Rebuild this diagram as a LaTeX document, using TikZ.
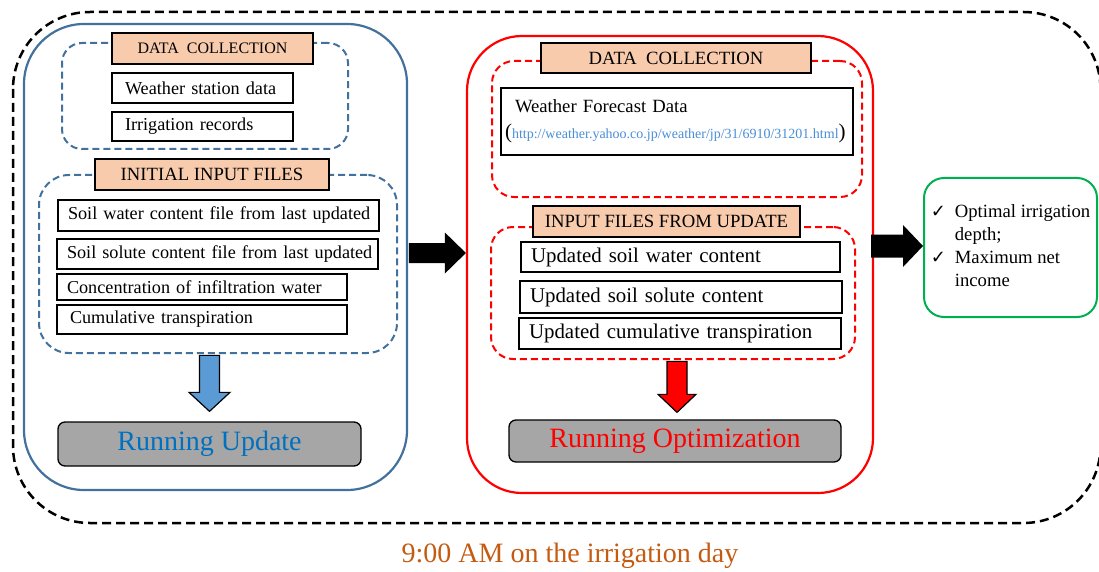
\documentclass[tikz,border=0pt]{standalone}
\usepackage{fontspec}
\setmainfont{Liberation Serif}
\newfontfamily\symfont{DejaVu Sans}
\usetikzlibrary{calc}

\definecolor{panelblue}{HTML}{41719C}
\definecolor{peach}{HTML}{F8CBAD}
\definecolor{arrowblue}{HTML}{5B9BD5}
\definecolor{runblue}{HTML}{0070C0}
\definecolor{urlblue}{HTML}{4A8ED6}
\definecolor{runred}{HTML}{FF0000}
\definecolor{boxgrey}{HTML}{A6A6A6}
\definecolor{resgreen}{HTML}{00B050}
\definecolor{captionorange}{HTML}{C55A11}

\newcommand{\bodysize}{\fontsize{18.67}{22}\selectfont}
\newcommand{\itemsize}{\fontsize{18.2}{22}\selectfont}
\newcommand{\bigbody}{\fontsize{20.9}{24}\selectfont}
\newcommand{\ck}{{\symfont\fontsize{18}{20}\selectfont ✓}}

\tikzset{
  outerframe/.style={draw=black, line width=2.5pt, dash pattern=on 9pt off 5pt, rounded corners=77pt},
  panelbox/.style={draw=#1, line width=2.2pt, rounded corners=60pt},
  grpbox/.style={draw=#1, line width=2pt, dash pattern=on 7pt off 4pt, rounded corners=22pt},
  headbox/.style={draw=black, line width=1.3pt, fill=peach, inner sep=0pt, font=\bodysize},
  itembox/.style={draw=black, line width=1.3pt, fill=white, inner xsep=10pt, inner ysep=0pt, align=left, font=\itemsize},
  runbox/.style={draw=black, line width=1.3pt, fill=boxgrey, rounded corners=7pt, font=\fontsize{28}{32}\selectfont},
  blockarrow/.style={draw=black, line width=1.2pt, fill=#1, line join=miter},
  solidarrow/.style={fill=black},
}

\begin{document}
\begin{tikzpicture}[x=1pt, y=-1pt]
  \useasboundingbox (0,0) rectangle (1099,572);

  \draw[outerframe] (13,12) rectangle (1100.5,523);

  % left: update
  \node[panelbox=panelblue, minimum width=383pt, minimum height=466pt] (updpanel) at (215.5,257) {};
  \node[grpbox=panelblue, minimum width=286pt, minimum height=106pt, rounded corners=20pt] (colgrp) at (205,96) {};
  \node[headbox, minimum width=201pt, minimum height=31pt, font=\fontsize{16}{18}\selectfont] (colhead) at (212.5,48.5) {DATA~ COLLECTION};
  \node[itembox, inner xsep=13pt, text width=155pt, minimum height=30pt] (wsd) at (202.5,88) {\mbox{Weather station data}};
  \node[itembox, inner xsep=13pt, text width=155pt, minimum height=29pt] (irr) at (202.5,126.5) {\mbox{Irrigation records}};

  \node[grpbox=panelblue, minimum width=358pt, minimum height=178pt, rounded corners=30pt] (ingrp) at (218,264) {};
  \node[headbox, minimum width=234pt, minimum height=31pt] (inhead) at (212,174.5) {INITIAL INPUT FILES};
  \node[itembox, text width=301pt, minimum height=31pt] (soilwater) at (218.5,215.5) {\mbox{Soil water content file from last updated}};
  \node[itembox, text width=301pt, minimum height=30pt] (soilsolute) at (217.5,254) {\mbox{Soil solute content file from last updated}};
  \node[itembox, text width=270pt, minimum height=26pt] (conc) at (202,287) {\mbox{Concentration of infiltration water}};
  \node[itembox, inner xsep=13pt, text width=264pt, minimum height=29pt] (cumtr) at (202,319.5) {\mbox{Cumulative transpiration}};

  \node[runbox, minimum width=303pt, minimum height=44pt, text=runblue] (runupd) at (209.5,444) {Running Update};
  \draw[blockarrow=arrowblue] ($(runupd.north)+(0,-10)$) -- ++(-20.5,-19) -- ++(10.5,0) -- ++(0,-37)
    -- ++(20,0) -- ++(0,37) -- ++(10.5,0) -- cycle;

  % right: optimization
  \node[panelbox=runred, minimum width=406pt, minimum height=457pt, rounded corners=55pt] (optpanel) at (670,264.5) {};
  \node[grpbox=runred, minimum width=370pt, minimum height=136pt] (fcgrp) at (677,129) {};
  \node[headbox, minimum width=270pt, minimum height=30pt] (fchead) at (676,58) {DATA~ COLLECTION};
  \node[itembox, font=\bodysize, inner xsep=4pt, text width=344pt, minimum height=67pt] (wfbox) at (677,121.5)
    {\hspace*{10pt}Weather Forecast Data\\[4pt]
     \mbox{{\fontsize{21}{22}\selectfont(}{\fontsize{14}{16}\selectfont\color{urlblue}http://weather.yahoo.co.jp/weather/jp/31/6910/31201.html}{\fontsize{21}{22}\selectfont)}}};

  \node[grpbox=runred, minimum width=364pt, minimum height=132pt] (upgrp) at (673,293) {};
  \node[headbox, minimum width=267pt, minimum height=31pt] (uphead) at (666.5,221.5) {INPUT FILES FROM UPDATE};
  \node[itembox, font=\bigbody, text width=299pt, minimum height=30pt] (usw) at (680.5,257) {\mbox{Updated soil water content}};
  \node[itembox, font=\bigbody, text width=302pt, minimum height=32pt] (uss) at (681,297) {\mbox{Updated soil solute content}};
  \node[itembox, font=\bigbody, text width=302pt, minimum height=31pt] (uct) at (680,333.5) {\mbox{Updated cumulative transpiration}};

  \node[runbox, minimum width=332pt, minimum height=42pt, text=runred] (runopt) at (675,441) {Running Optimization};
  \draw[blockarrow=runred] ($(runopt.north)+(2,-7)$) -- ++(-19,-18) -- ++(9,0) -- ++(0,-33)
    -- ++(20,0) -- ++(0,33) -- ++(9,0) -- cycle;

  % result
  \node[draw=resgreen, line width=2pt, rounded corners=20pt, minimum width=173pt, minimum height=139pt] (result) at (1010.5,247.5)
    {\fontsize{18.67}{23}\selectfont
     \begin{tabular}{@{}l@{\hspace{9pt}}l@{}}
       \ck & Optimal irrigation\\
           & depth;\\
       \ck & Maximum net\\
           & income
     \end{tabular}};

  % arrows between panels
  \fill[solidarrow] (optpanel.west |- 0,253) -- ++(-21,-20.5) -- ++(0,10.5) -- ++(-36,0)
    -- ++(0,20) -- ++(36,0) -- ++(0,10.5) -- cycle;
  \fill[solidarrow] (result.west |- 0,246) -- ++(-20,-21) -- ++(0,9.5) -- ++(-32,0)
    -- ++(0,23) -- ++(32,0) -- ++(0,9.5) -- cycle;

  \node[text=captionorange, font=\fontsize{28}{32}\selectfont] (caption) at (570,556) {9:00 AM on the irrigation day};
\end{tikzpicture}
\end{document}
